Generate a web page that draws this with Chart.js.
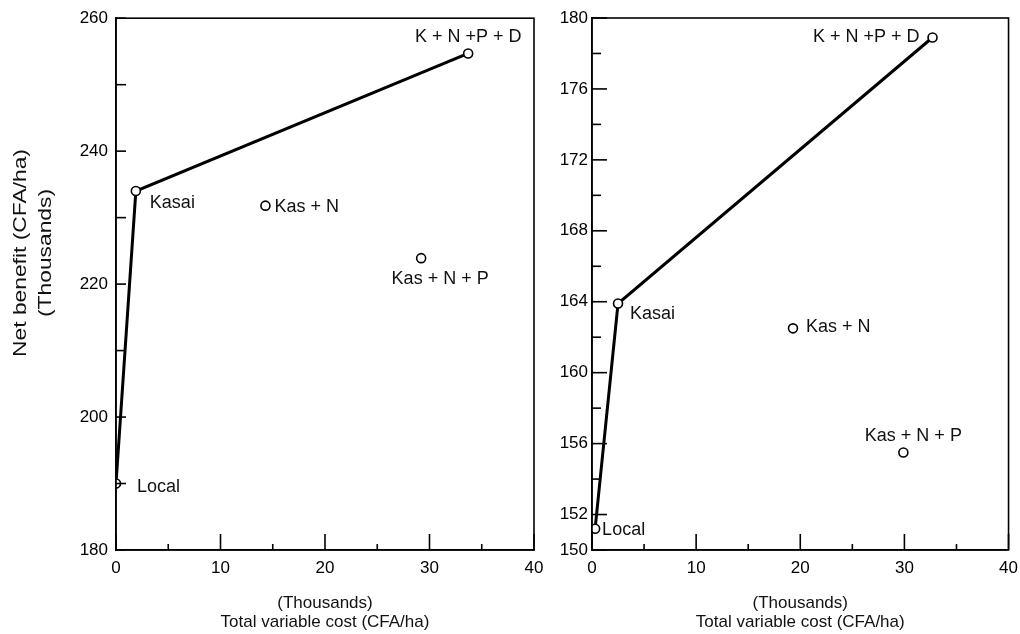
<!DOCTYPE html>
<html>
<head>
<meta charset="utf-8">
<script src="https://cdn.jsdelivr.net/npm/chart.js@4/dist/chart.umd.min.js"></script>
<style>
  body { margin: 0; background: #fff; overflow: hidden; }
  .wrap { position: relative; width: 1020px; height: 634px; overflow: hidden; }
  canvas { position: absolute; top: 0; }
  #leftChart { left: 0; }
  #rightChart { left: 550px; }
</style>
</head>
<body>
<div class="wrap">
  <canvas id="leftChart" width="560" height="634"></canvas>
  <canvas id="rightChart" width="476" height="634"></canvas>
</div>
<script>
// Data
const treatments = ['Local', 'Kasai', 'Kas + N', 'Kas + N + P', 'K + N +P + D'];
const costLeft = [0, 1.9, 14.3, 29.2, 33.7];
const benefitLeft = [190, 234, 231.8, 223.9, 254.7];
const costRight = [0.3, 2.5, 19.3, 29.9, 32.7];
const benefitRight = [151.2, 163.9, 162.5, 155.5, 178.9];
const frontierIdx = [0, 1, 4]; // Local -> Kasai -> K+N+P+D

const xTickLabels = [0, 10, 20, 30, 40];
const leftYTickLabels = [180, 200, 220, 240, 260];
const rightYTickLabels = [150, 152, 156, 160, 164, 168, 172, 176, 180];

const FONT = "'Liberation Sans', Arial, sans-serif";

// label placement (dx, dy from the point, text align)
const leftLabelPos = [
  { dx: 21, dy: 4, align: 'left' },
  { dx: 14, dy: 12, align: 'left' },
  { dx: 9, dy: 1, align: 'left' },
  { dx: 19, dy: 21, align: 'center' },
  { dx: 0, dy: -16, align: 'center' }
];
const rightLabelPos = [
  { dx: 7, dy: 1, align: 'left' },
  { dx: 12, dy: 11, align: 'left' },
  { dx: 13, dy: -1, align: 'left' },
  { dx: 10, dy: -16, align: 'center' },
  { dx: -13, dy: 0, align: 'right' }
];

// frame + inward ticks + point names (+ y title on the left panel)
const framePlugin = {
  id: 'frame',
  afterDatasetsDraw(chart, args, opts) {
    const { ctx, chartArea: a, scales } = chart;
    ctx.save();
    ctx.strokeStyle = '#000';
    ctx.lineWidth = 1.6;
    ctx.strokeRect(a.left, a.top, a.right - a.left, a.bottom - a.top);

    // y ticks pointing in
    scales.y.ticks.forEach(t => {
      const py = scales.y.getPixelForValue(t.value);
      const len = opts.yMajor.includes(t.value) ? opts.yMajorLen : opts.yMinorLen;
      ctx.beginPath();
      ctx.moveTo(a.left, py);
      ctx.lineTo(a.left + len, py);
      ctx.stroke();
    });
    // x ticks pointing up
    scales.x.ticks.forEach(t => {
      const px = scales.x.getPixelForValue(t.value);
      const len = xTickLabels.includes(t.value) ? 16 : 6;
      ctx.beginPath();
      ctx.moveTo(px, a.bottom);
      ctx.lineTo(px, a.bottom - len);
      ctx.stroke();
    });

    // names next to the points
    const meta = chart.getDatasetMeta(0);
    ctx.fillStyle = '#111';
    ctx.font = '18px ' + FONT;
    ctx.textBaseline = 'middle';
    meta.data.forEach((pt, i) => {
      const p = opts.labelPos[i];
      ctx.textAlign = p.align;
      ctx.fillText(treatments[i], pt.x + p.dx, pt.y + p.dy);
    });

    // rotated y title, a little stretched like the printed one
    if (opts.yTitle) {
      ctx.font = '19px ' + FONT;
      ctx.textAlign = 'center';
      ctx.textBaseline = 'middle';
      opts.yTitle.forEach((line, i) => {
        ctx.save();
        ctx.translate(21 + i * 25, 253);
        ctx.rotate(-Math.PI / 2);
        ctx.scale(1.2, 1);
        ctx.fillText(line, 0, 0);
        ctx.restore();
      });
    }
    ctx.restore();
  }
};

function makePanel(id, cost, benefit, yMin, yMax, yStep, yLabels, opts) {
  const points = cost.map((c, i) => ({ x: c, y: benefit[i] }));
  const frontier = frontierIdx.map(i => ({ x: cost[i], y: benefit[i] }));

  return new Chart(document.getElementById(id), {
    type: 'scatter',
    data: {
      datasets: [
        {
          data: points,
          pointRadius: 4.5,
          pointBackgroundColor: '#fff',
          pointBorderColor: '#000',
          pointBorderWidth: 1.6,
          showLine: false
        },
        {
          data: frontier,
          showLine: true,
          borderColor: '#000',
          borderWidth: 3,
          pointRadius: 0
        }
      ]
    },
    options: {
      responsive: false,
      animation: false,
      devicePixelRatio: 1,
      layout: { padding: { top: 18, right: opts.padRight, left: 0, bottom: 0 } },
      plugins: {
        legend: { display: false },
        tooltip: { enabled: false },
        frame: {
          yMajor: yLabels,
          yMajorLen: opts.yMajorLen,
          yMinorLen: opts.yMinorLen,
          labelPos: opts.labelPos,
          yTitle: opts.yTitle
        }
      },
      scales: {
        x: {
          type: 'linear',
          min: 0,
          max: 40,
          grid: { display: false, drawTicks: false },
          border: { display: true, color: '#000', width: 1.6 },
          ticks: {
            stepSize: 5,
            autoSkip: false,
            maxRotation: 0,
            padding: 8,
            color: '#000',
            font: { family: FONT, size: 17 },
            callback: v => xTickLabels.includes(v) ? String(v) : ''
          },
          title: {
            display: true,
            text: ['(Thousands)', 'Total variable cost (CFA/ha)'],
            color: '#111',
            font: { family: FONT, size: 17, lineHeight: 1.12 },
            padding: { top: 4, bottom: 2 }
          },
          afterFit: s => { s.height = 84; }
        },
        y: {
          type: 'linear',
          min: yMin,
          max: yMax,
          grid: { display: false, drawTicks: false },
          border: { display: true, color: '#000', width: 1.6 },
          ticks: {
            stepSize: yStep,
            autoSkip: false,
            padding: opts.yPad,
            color: '#000',
            font: { family: FONT, size: 17 },
            callback: v => yLabels.includes(v) ? String(v) : ''
          },
          afterFit: s => { s.width = opts.yWidth; }
        }
      }
    },
    plugins: [framePlugin]
  });
}

makePanel('leftChart', costLeft, benefitLeft, 180, 260, 10, leftYTickLabels, {
  padRight: 26, yWidth: 116, yPad: 8, yMajorLen: 10, yMinorLen: 10, labelPos: leftLabelPos,
  yTitle: ['Net benefit (CFA/ha)', '(Thousands)']
});
makePanel('rightChart', costRight, benefitRight, 150, 180, 2, rightYTickLabels, {
  padRight: 6, yWidth: 42, yPad: 4, yMajorLen: 15, yMinorLen: 9, labelPos: rightLabelPos,
  yTitle: null
});
</script>
</body>
</html>
